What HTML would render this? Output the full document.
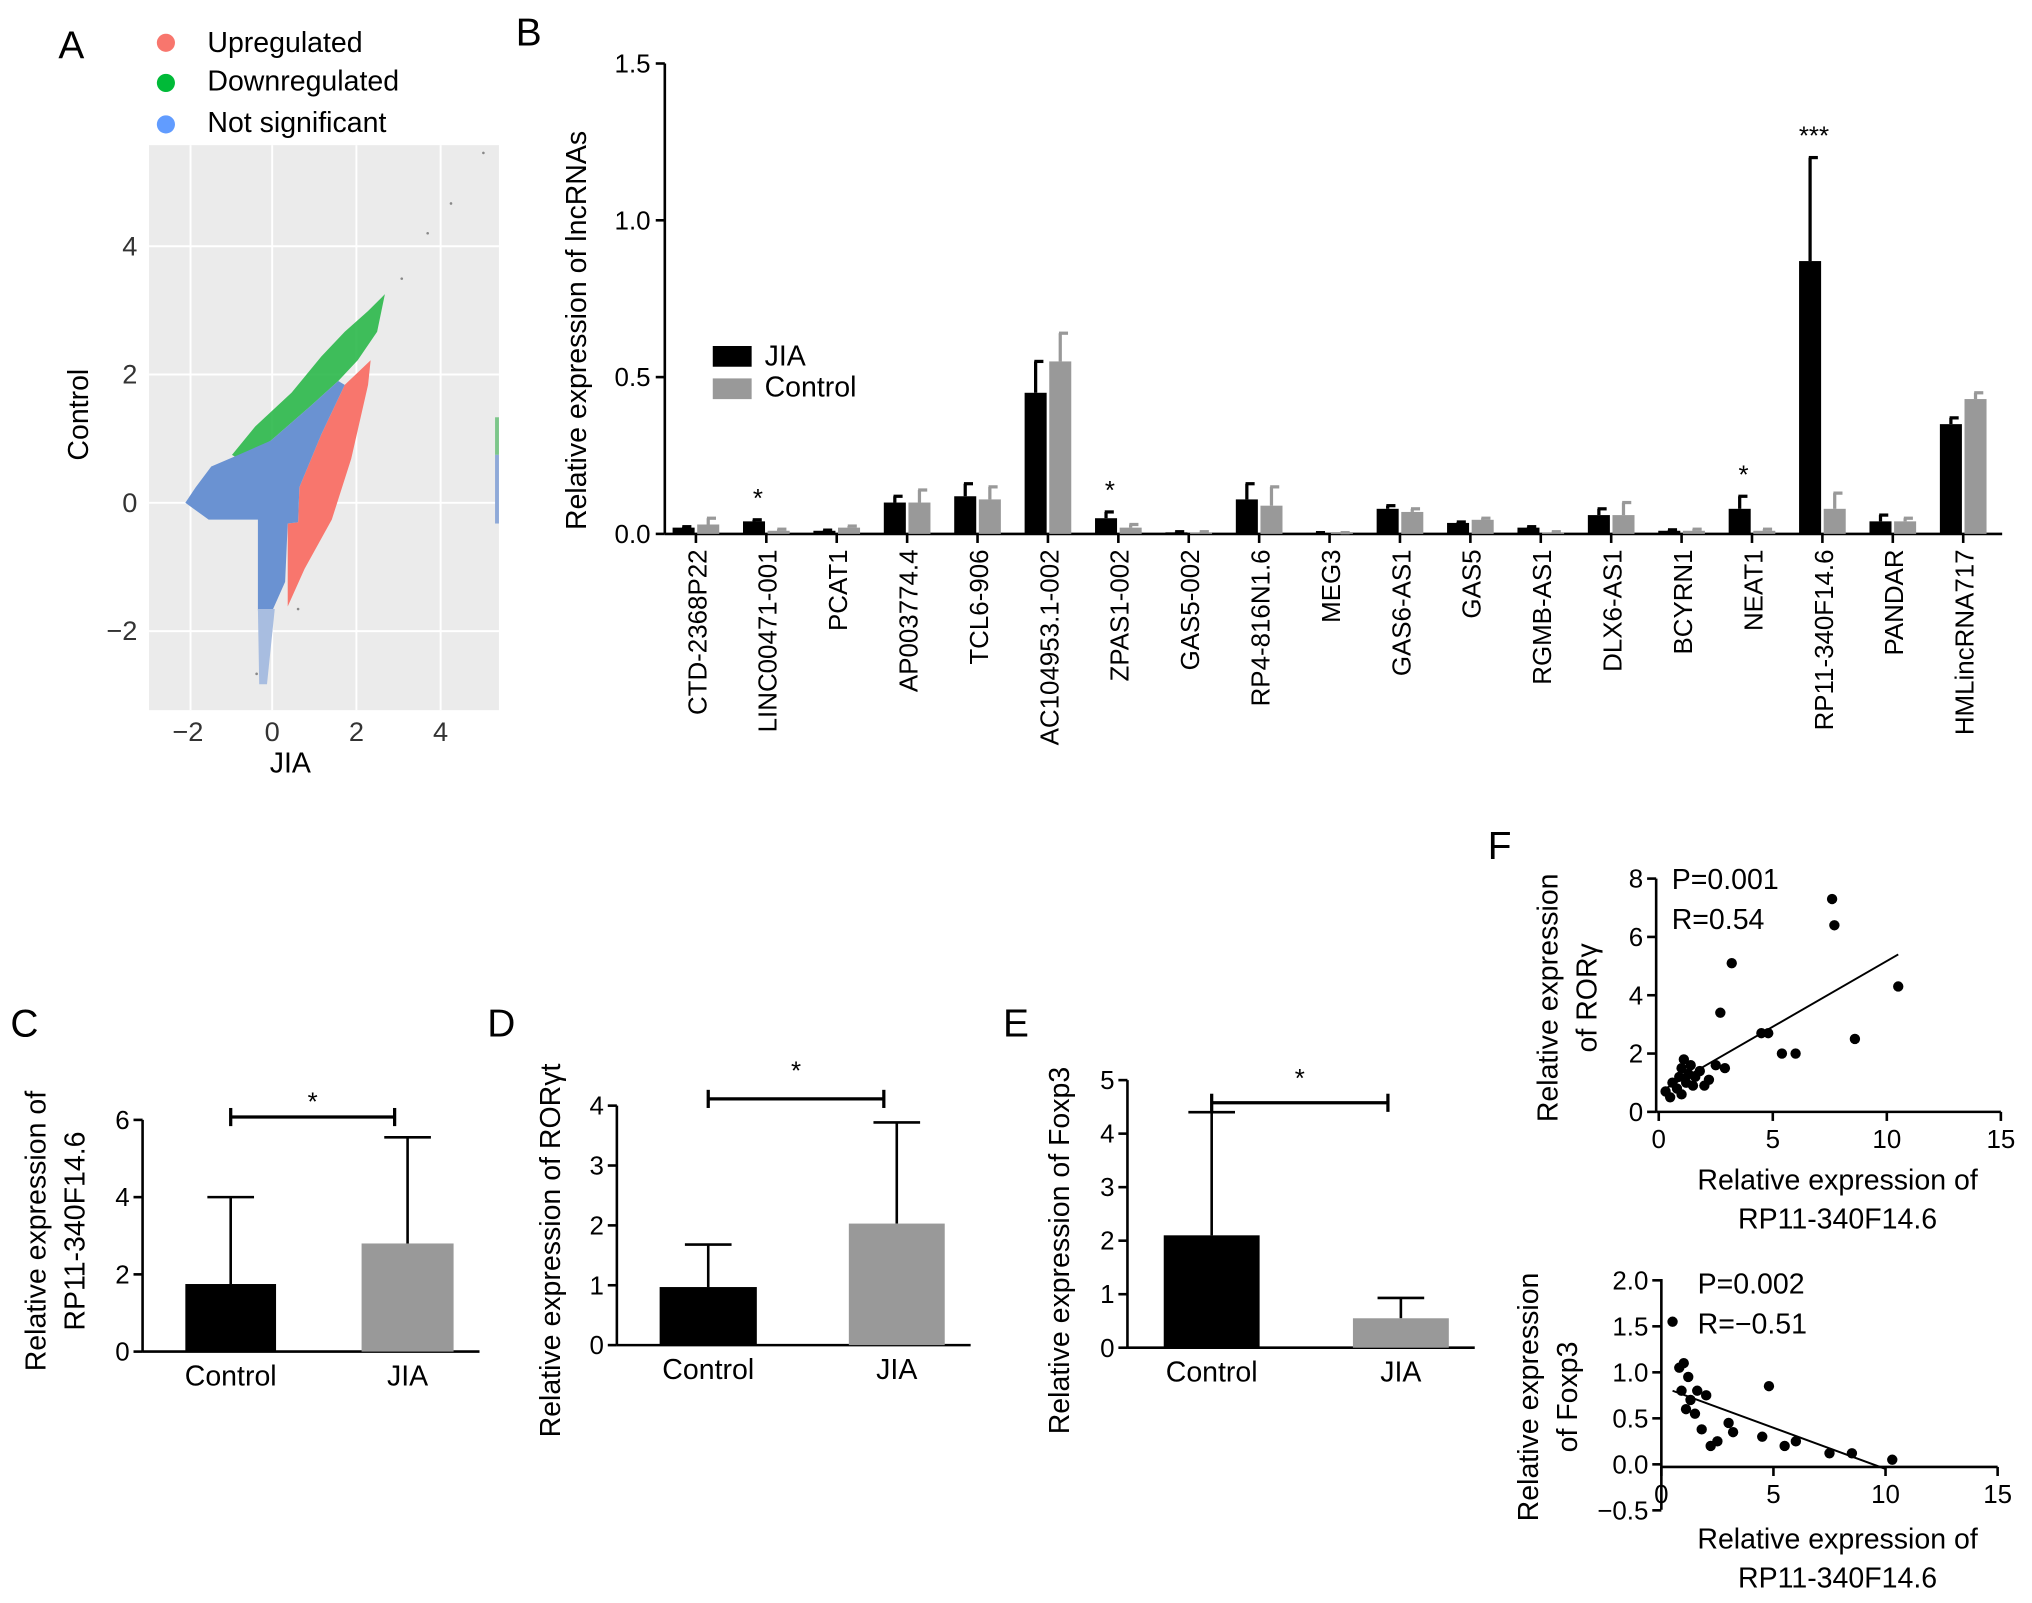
<!DOCTYPE html>
<html><head><meta charset="utf-8"><style>
html,body{margin:0;padding:0;background:#fff;}
svg{display:block;font-family:"Liberation Sans",Arial,sans-serif;}
</style></head><body>
<svg id="fig" width="2032" height="1603" viewBox="0 0 1568 1237" xmlns="http://www.w3.org/2000/svg">
<g id="panelA">
<text x="45" y="45" font-size="30">A</text>
<circle cx="128" cy="33" r="7" fill="#f8766d"/>
<text x="160" y="40" font-size="22">Upregulated</text>
<circle cx="128" cy="64" r="7" fill="#00ba38"/>
<text x="160" y="70" font-size="22">Downregulated</text>
<circle cx="128" cy="96" r="7" fill="#619cff"/>
<text x="160" y="102" font-size="22">Not significant</text>
<rect x="115" y="112" width="270" height="436" fill="#ebebeb"/>
<g stroke="#fff" stroke-width="1.5">
<line x1="147" y1="112" x2="147" y2="548"/><line x1="210" y1="112" x2="210" y2="548"/><line x1="275" y1="112" x2="275" y2="548"/><line x1="340" y1="112" x2="340" y2="548"/>
<line x1="115" y1="190" x2="385" y2="190"/><line x1="115" y1="289" x2="385" y2="289"/><line x1="115" y1="388" x2="385" y2="388"/><line x1="115" y1="487" x2="385" y2="487"/>
</g>
<polygon points="179,351 197,329 225,303 248,275 266,256 284,240 297,227 291,256 276,278 261,294 240,313 209,340 184,354" fill="#2bb84a" opacity="0.9"/>
<polygon points="266,297 286,278 284,297 271,354 256,401 235,439 222,468 222,404 230,403 231,376 248,335" fill="#f8766d"/>
<polygon points="143,388 151,376 163,360 184,351 209,340 240,313 261,294 266,297 248,335 231,376 230,403 222,404 220,449 204,485 199,471 199,401 161,401" fill="#6a92d2"/>
<polygon points="199,470 212,470 206,528 200,528" fill="#a8bde0"/>
<rect x="382" y="322" width="3" height="29" fill="#7cc68a"/>
<rect x="382" y="351" width="3" height="53" fill="#8ea9d8"/>
<g fill="#888"><circle cx="330" cy="180" r="1"/><circle cx="348" cy="157" r="1"/><circle cx="373" cy="118" r="1"/><circle cx="310" cy="215" r="1"/><circle cx="230" cy="470" r="1"/><circle cx="198" cy="520" r="1"/></g>
<g font-size="21" fill="#333" text-anchor="middle">
<text x="145" y="572">−2</text><text x="210" y="572">0</text><text x="275" y="572">2</text><text x="340" y="572">4</text></g>
<g font-size="21" fill="#333" text-anchor="end">
<text x="106" y="197">4</text><text x="106" y="296">2</text><text x="106" y="395">0</text><text x="106" y="494">−2</text></g>
<text x="224" y="596" font-size="22" text-anchor="middle">JIA</text>
<text transform="translate(68,320) rotate(-90)" font-size="22" text-anchor="middle">Control</text>
</g>
<g id="panelB">
<text x="398" y="35" font-size="30">B</text>
<text transform="translate(452,255) rotate(-90)" font-size="22" text-anchor="middle">Relative expression of lncRNAs</text>
<rect x="550" y="267" width="30" height="16" fill="#000"/>
<text x="590" y="282" font-size="22">JIA</text>
<rect x="550" y="292" width="30" height="16" fill="#999"/>
<text x="590" y="306" font-size="22">Control</text>
</g>
<g id="panelC"></g><g id="panelD"></g><g id="panelE"></g><g id="panelF"></g>
</svg>
<script>
const NS="http://www.w3.org/2000/svg";
function mk(parent,tag,attrs,txt){const e=document.createElementNS(NS,tag);for(const k in attrs)e.setAttribute(k,attrs[k]);if(txt!==undefined)e.textContent=txt;parent.appendChild(e);return e;}
// Panel B data
const bCategories=["CTD-2368P22","LINC00471-001","PCAT1","AP003774.4","TCL6-906","AC104953.1-002","ZPAS1-002","GAS5-002","RP4-816N1.6","MEG3","GAS6-AS1","GAS5","RGMB-AS1","DLX6-AS1","BCYRN1","NEAT1","RP11-340F14.6","PANDAR","HMLincRNA717"];
const bJIA=[0.02,0.04,0.01,0.10,0.12,0.45,0.05,0.005,0.11,0.003,0.08,0.035,0.02,0.06,0.01,0.08,0.87,0.04,0.35];
const bControl=[0.03,0.01,0.02,0.10,0.11,0.55,0.02,0.005,0.09,0.003,0.07,0.045,0.005,0.06,0.01,0.01,0.08,0.04,0.43];
const bErrJIA=[0.003,0.005,0.002,0.02,0.04,0.10,0.02,0.002,0.05,0.001,0.01,0.003,0.003,0.02,0.003,0.04,0.33,0.02,0.02];
const bErrControl=[0.02,0.005,0.005,0.04,0.04,0.09,0.01,0.002,0.06,0.001,0.01,0.005,0.002,0.04,0.005,0.005,0.05,0.01,0.02];
const bStars=["","*","","","","","*","","","","","","","","","*","***","",""];
const bTicks=[0,0.5,1.0,1.5];
const bTickLabels=["0.0","0.5","1.0","1.5"];
// Panels C-E data
const cGroups=["Control","JIA"],cValues=[1.75,2.8],cErrors=[4.0,5.55],cTicks=[0,2,4,6];
const dGroups=["Control","JIA"],dValues=[0.97,2.03],dErrors=[1.68,3.72],dTicks=[0,1,2,3,4];
const eGroups=["Control","JIA"],eValues=[2.1,0.55],eErrors=[4.4,0.93],eTicks=[0,1,2,3,4,5];
// Panel F data
const f1X=[0.3,0.5,0.6,0.8,0.9,1.0,1.0,1.1,1.2,1.3,1.4,1.5,1.6,1.8,2.0,2.2,2.5,2.7,2.9,3.2,4.5,4.8,5.4,6.0,7.6,7.7,8.6,10.5];
const f1Y=[0.7,0.5,1.0,0.8,1.2,0.6,1.5,1.8,1.0,1.3,1.6,0.9,1.2,1.4,0.9,1.1,1.6,3.4,1.5,5.1,2.7,2.7,2.0,2.0,7.3,6.4,2.5,4.3];
const f1Line=[[0.3,0.8],[10.5,5.4]];
const f1XTicks=[0,5,10,15],f1YTicks=[0,2,4,6,8];
const f2X=[0.5,0.8,0.9,1.0,1.1,1.2,1.3,1.5,1.6,1.8,2.0,2.2,2.5,3.0,3.2,4.5,4.8,5.5,6.0,7.5,8.5,10.3];
const f2Y=[1.55,1.05,0.8,1.1,0.6,0.95,0.7,0.55,0.8,0.38,0.75,0.2,0.25,0.45,0.35,0.3,0.85,0.2,0.25,0.12,0.12,0.05];
const f2Line=[[0.5,0.8],[10,-0.05]];
const f2XTicks=[0,5,10,15],f2YTicks=[-0.5,0,0.5,1.0,1.5,2.0];

// ---- Panel B ----
(function(){
const g=document.getElementById('panelB');
const y0=412,py=242,x0=537,dx=54.33,bw=17;
const ys=v=>y0-v*py, xs=i=>x0+i*dx;
let ax=mk(g,'line',{x1:513,y1:ys(1.5),x2:513,y2:y0,stroke:'#000','stroke-width':2});

let xa=mk(g,'line',{x1:513,y1:y0,x2:1545,y2:y0,stroke:'#000','stroke-width':2});

bTicks.forEach((t,i)=>{mk(g,'line',{x1:506,y1:ys(t),x2:513,y2:ys(t),stroke:'#000','stroke-width':2});
const tl=mk(g,'text',{x:502,y:ys(t)+7,'font-size':20,'text-anchor':'end'},bTickLabels[i]);
});
bCategories.forEach((c,i)=>{const cx=xs(i);
const b1=mk(g,'rect',{x:cx-bw-1,y:ys(bJIA[i]),width:bw,height:bJIA[i]*py,fill:'#000'});

const b2=mk(g,'rect',{x:cx+1,y:ys(bControl[i]),width:bw,height:bControl[i]*py,fill:'#999'});

const e1x=cx-bw/2-1, e2x=cx+1+bw/2;
mk(g,'line',{x1:e1x,y1:ys(bJIA[i]),x2:e1x,y2:ys(bJIA[i]+bErrJIA[i]),stroke:'#000','stroke-width':2.5});
mk(g,'line',{x1:e1x-1,y1:ys(bJIA[i]+bErrJIA[i]),x2:e1x+6,y2:ys(bJIA[i]+bErrJIA[i]),stroke:'#000','stroke-width':2.5});
mk(g,'line',{x1:e2x,y1:ys(bControl[i]),x2:e2x,y2:ys(bControl[i]+bErrControl[i]),stroke:'#999','stroke-width':2.5});
mk(g,'line',{x1:e2x-1,y1:ys(bControl[i]+bErrControl[i]),x2:e2x+6,y2:ys(bControl[i]+bErrControl[i]),stroke:'#999','stroke-width':2.5});
mk(g,'line',{x1:cx,y1:y0,x2:cx,y2:y0+7,stroke:'#000','stroke-width':2});
const lb=mk(g,'text',{transform:`translate(${cx+8},${y0+12}) rotate(-90)`,'font-size':20,'text-anchor':'end'},c);

if(bStars[i]){const s=mk(g,'text',{x:e1x+3,y:ys(bJIA[i]+bErrJIA[i])-10,'font-size':20,'text-anchor':'middle'},bStars[i]);
}
});
})();

// ---- Panels C,D,E ----
function barPanel(id,letter,lx,ly,axX,y0,py,ticks,groups,vals,errs,bars,brY,starY,ylab){
const g=document.getElementById(id);
const ys=v=>y0-v*py;
const L=mk(g,'text',{x:lx,y:ly,'font-size':30},letter);
const top=ticks[ticks.length-1];
mk(g,'line',{x1:axX,y1:ys(top),x2:axX,y2:y0,stroke:'#000','stroke-width':2});
mk(g,'line',{x1:axX,y1:y0,x2:bars[1][1]+20,y2:y0,stroke:'#000','stroke-width':2});
ticks.forEach(t=>{mk(g,'line',{x1:axX-7,y1:ys(t),x2:axX,y2:ys(t),stroke:'#000','stroke-width':2});
const tl=mk(g,'text',{x:axX-10,y:ys(t)+7,'font-size':20,'text-anchor':'end'},String(t));
});
vals.forEach((v,i)=>{const [x1,x2]=bars[i];const cx=(x1+x2)/2;
mk(g,'line',{x1:cx,y1:ys(v),x2:cx,y2:ys(errs[i]),stroke:'#000','stroke-width':2});
mk(g,'line',{x1:cx-18,y1:ys(errs[i]),x2:cx+18,y2:ys(errs[i]),stroke:'#000','stroke-width':2});
const r=mk(g,'rect',{x:x1,y:ys(v),width:x2-x1,height:v*py,fill:i==0?'#000':'#999'});

const t=mk(g,'text',{x:cx,y:y0+26,'font-size':22,'text-anchor':'middle'},groups[i]);
});
const bx0=(bars[0][0]+bars[0][1])/2, bx1=(bars[1][0]+bars[1][1])/2-10;
mk(g,'line',{x1:bx0,y1:brY,x2:bx1,y2:brY,stroke:'#000','stroke-width':2.5});
mk(g,'line',{x1:bx0,y1:brY-7,x2:bx0,y2:brY+7,stroke:'#000','stroke-width':2.5});
mk(g,'line',{x1:bx1,y1:brY-7,x2:bx1,y2:brY+7,stroke:'#000','stroke-width':2.5});
const s=mk(g,'text',{x:(bx0+bx1)/2,y:starY,'font-size':20,'text-anchor':'middle'},'*');

ylab.forEach(([x,yc,txt])=>{const t=mk(g,'text',{transform:`translate(${x},${yc}) rotate(-90)`,'font-size':22,'text-anchor':'middle'},txt);
});
}
barPanel('panelC','C',8,800,110,1043,29.8,cTicks,cGroups,cValues,cErrors,[[143,213],[279,350]],862,857,[[35,950,'Relative expression of'],[65,950,'RP11-340F14.6']]);
barPanel('panelD','D',376,800,476,1038,46.2,dTicks,dGroups,dValues,dErrors,[[509,584],[655,729]],848,833,[[432,965,'Relative expression of RORγt']]);
barPanel('panelE','E',774,800,870,1040,41.3,eTicks,eGroups,eValues,eErrors,[[898,972],[1044,1118]],851,839,[[825,965,'Relative expression of Foxp3']]);

// ---- Panel F ----
(function(){
const g=document.getElementById('panelF');
const L=mk(g,'text',{x:1148,y:663,'font-size':30},'F');
function sc(axX,x0,pxX,y0,pyY,xT,yT,xAxisY,yTop,yBot,X,Y,line,p,r,ylab,xlabY,yfmt){
const xs=v=>x0+v*pxX, ys=v=>y0-v*pyY;
mk(g,'line',{x1:axX,y1:yTop,x2:axX,y2:yBot,stroke:'#000','stroke-width':2});
mk(g,'line',{x1:axX,y1:xAxisY,x2:xs(15),y2:xAxisY,stroke:'#000','stroke-width':2});
yT.forEach(t=>{mk(g,'line',{x1:axX-7,y1:ys(t),x2:axX,y2:ys(t),stroke:'#000','stroke-width':2});
const tl=mk(g,'text',{x:axX-10,y:ys(t)+7,'font-size':20,'text-anchor':'end'},yfmt(t));});
xT.forEach(t=>{mk(g,'line',{x1:xs(t),y1:xAxisY,x2:xs(t),y2:xAxisY+7,stroke:'#000','stroke-width':2});
const tl=mk(g,'text',{x:xs(t),y:xAxisY+28,'font-size':20,'text-anchor':'middle'},String(t));});
const ln=mk(g,'line',{x1:xs(line[0][0]),y1:ys(line[0][1]),x2:xs(line[1][0]),y2:ys(line[1][1]),stroke:'#000','stroke-width':1.5});

X.forEach((x,i)=>{const c=mk(g,'circle',{cx:xs(x),cy:ys(Y[i]),r:4,fill:'#000'});});
const t1=mk(g,'text',{x:p[0],y:p[1],'font-size':22},p[2]);
const t2=mk(g,'text',{x:r[0],y:r[1],'font-size':22},r[2]);
ylab.forEach(([x,yc,txt])=>{const t=mk(g,'text',{transform:`translate(${x},${yc}) rotate(-90)`,'font-size':22,'text-anchor':'middle'},txt);});
[['Relative expression of',xlabY],['RP11-340F14.6',xlabY+30]].forEach(([txt,y])=>{const t=mk(g,'text',{x:1418,y:y,'font-size':22,'text-anchor':'middle'},txt);});
}
sc(1278,1280,17.6,858,22.5,f1XTicks,f1YTicks,858,678,858,f1X,f1Y,f1Line,[1290,686,'P=0.001'],[1290,717,'R=0.54'],[[1202,770,'Relative expression'],[1232,770,'of RORγ']],918,t=>String(t));
sc(1282,1282,17.3,1130,71,f2XTicks,f2YTicks,1132,987,1165,f2X,f2Y,f2Line,[1310,998,'P=0.002'],[1310,1029,'R=−0.51'],[[1187,1078,'Relative expression'],[1217,1078,'of Foxp3']],1195,t=>t<0?'−'+Math.abs(t).toFixed(1):t.toFixed(1));
})();
</script>
</body></html>
